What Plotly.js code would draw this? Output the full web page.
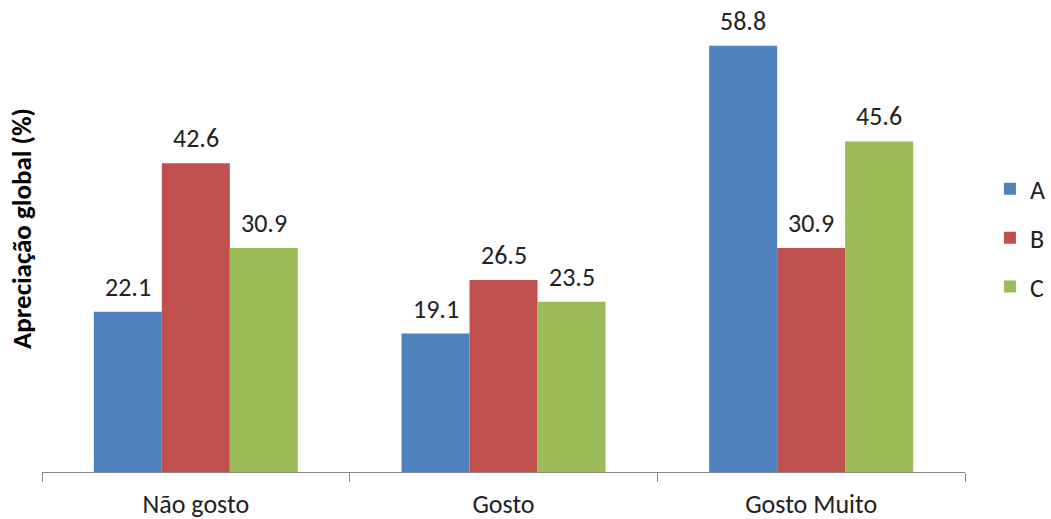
<!DOCTYPE html>
<html>
<head>
<meta charset="utf-8">
<script src="https://cdn.plot.ly/plotly-3.0.1.min.js"></script>
<style>html,body{margin:0;padding:0;background:#fff;}#chart{width:1051px;height:519px;}</style>
</head>
<body>
<div id="chart"></div>
<script>
const categories = ["Não gosto", "Gosto", "Gosto Muito"];
const seriesNames = ["A", "B", "C"];
const valuesA = [22.1, 19.1, 58.8];
const valuesB = [42.6, 26.5, 30.9];
const valuesC = [30.9, 23.5, 45.6];
const colors = ["#4F81BD", "#C0504D", "#9BBB59"];
const allValues = [valuesA, valuesB, valuesC];

const FONT = "Carlito, 'Open Sans', sans-serif";
const FS = 26;

const traces = allValues.map((vals, i) => ({
  type: "bar",
  name: seriesNames[i],
  x: categories,
  y: vals,
  marker: {color: colors[i]},
  legendgroup: seriesNames[i],
  hoverinfo: "skip"
}));

const annotations = [];
allValues.forEach((vals, i) => {
  vals.forEach((v, j) => {
    annotations.push({
      x: categories[j], y: v, xref: "x", yref: "y",
      text: v.toFixed(1), showarrow: false,
      xshift: (i - 1) * 68, yanchor: "bottom", yshift: 7,
      font: {family: FONT, size: FS, color: "#222"}
    });
  });
});
annotations.push({
  xref: "paper", yref: "paper", x: -0.022, y: 0.56,
  xanchor: "center", yanchor: "middle", textangle: -90,
  text: "<b>Apreciação global (%)</b>", showarrow: false,
  font: {family: FONT, size: 27, color: "#000"}
});

const layout = {
  width: 1051, height: 519,
  margin: {l: 42, r: 86, t: 37, b: 47, autoexpand: false},
  paper_bgcolor: "#fff", plot_bgcolor: "#fff",
  barmode: "group", bargap: 0.337, bargroupgap: 0,
  font: {family: FONT, size: FS, color: "#222"},
  xaxis: {
    type: "category", showline: true, linecolor: "#868686", linewidth: 1,
    ticks: "outside", tickson: "boundaries", ticklen: 9, tickcolor: "#868686",
    showgrid: false, zeroline: false, automargin: false,
    tickfont: {family: FONT, size: FS, color: "#222"}, ticklabelstandoff: 9
  },
  yaxis: {range: [0, 60], visible: false, showgrid: false, zeroline: false},
  showlegend: true,
  legend: {
    x: 1.027, xanchor: "left", y: 0.538, yanchor: "middle",
    font: {family: FONT, size: FS, color: "#222"},
    tracegroupgap: 12, traceorder: "grouped"
  },
  annotations: annotations
};

Plotly.newPlot("chart", traces, layout, {displayModeBar: false, staticPlot: true});
</script>
</body>
</html>
